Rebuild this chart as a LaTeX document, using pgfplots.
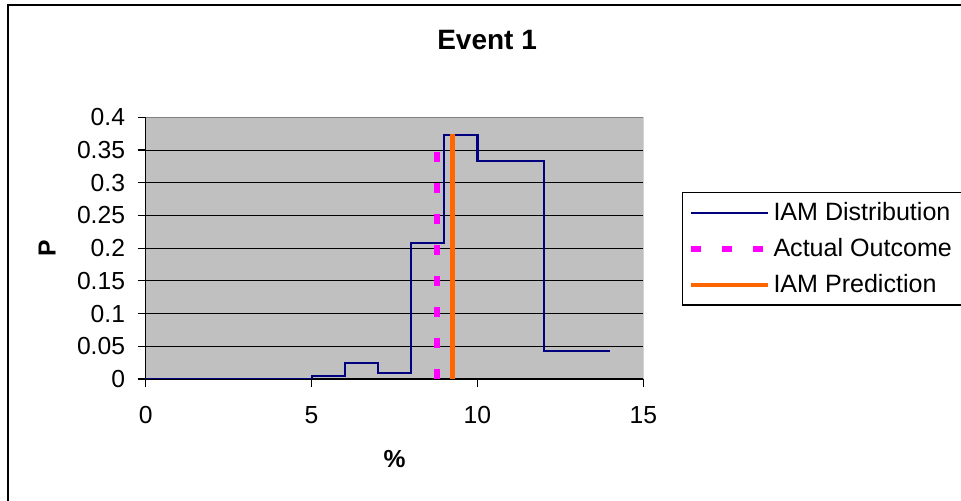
\documentclass[border=0pt]{standalone}
\usepackage{pgfplots}
\pgfplotsset{compat=1.18}
\usepackage{fontspec}
\setmainfont{Liberation Sans}

\definecolor{navyline}{RGB}{0,0,128}
\definecolor{plotgray}{RGB}{192,192,192}
\definecolor{orangeline}{RGB}{255,102,0}
\definecolor{pinkline}{RGB}{255,0,255}
\definecolor{bordergray}{RGB}{128,128,128}

\begin{document}
\begin{tikzpicture}
% page = 961 x 501 px at 0.75pt per px, origin at the lower left of the plot area
\useasboundingbox (-109.3pt,-91.5pt) rectangle (611.5pt,284.25pt);
\draw[black, line width=0.8pt] (-103.3pt,-91.5pt) -- (-103.3pt,280.5pt) -- (611.5pt,280.5pt);

\begin{axis}[
    at={(0,0)}, anchor=south west,
    scale only axis,
    width=373.2pt, height=196.3pt,
    xmin=0, xmax=15, ymin=0, ymax=0.4,
    xtick={0,5,10,15},
    ytick={0,0.05,...,0.4},
    scaled y ticks=false,
    yticklabel style={/pgf/number format/fixed, /pgf/number format/precision=2, xshift=-6pt},
    xticklabel style={yshift=-11pt},
    /pgf/number format/assume math mode=true,
    tick align=outside, tick pos=left,
    major tick length=6pt,
    every tick/.style={black, line width=0.8pt},
    ticklabel style={font=\fontsize{18.5}{21}\selectfont},
    axis background/.style={fill=plotgray},
    axis x line*=bottom, axis y line*=left,
    axis line style={black, line width=0.9pt},
    ymajorgrids,
    major grid style={black, line width=0.7pt},
    title={\textbf{Event 1}},
    every axis title/.style={at={(axis description cs:0.686,1.297)}, anchor=center, font=\fontsize{21}{24}\selectfont},
    xlabel={\textbf{\%}},
    xlabel style={at={(axis description cs:0.5,-0.306)}, anchor=center, font=\fontsize{18.5}{21}\selectfont},
    ylabel={\textbf{P}},
    ylabel style={at={(axis description cs:-0.198,0.5)}, anchor=center, rotate=0, font=\fontsize{18.5}{21}\selectfont},
    legend image code/.code={\draw[#1] (0pt,0pt) -- (57.75pt,0pt);},
    legend style={at={(axis description cs:1.0778,0.7146)}, anchor=north west,
        draw=black, line width=0.8pt, fill=white,
        font=\fontsize{18.8}{21}\selectfont,
        inner xsep=4pt, inner ysep=5.5pt, row sep=8pt,
        nodes={inner sep=2pt}},
    legend cell align=left,
]
\draw[bordergray, line width=0.9pt] (rel axis cs:0,1) -- (rel axis cs:1,1) -- (rel axis cs:1,0);

\addplot[navyline, line width=1.6pt, const plot] coordinates {
    (0,0) (5,0.004) (6,0.0245) (7,0.0097) (8,0.2074) (9,0.3735) (10,0.333) (12,0.0433) (14,0.0433)
};
\addlegendentry{IAM Distribution\hspace*{5pt}}

\addplot[pinkline, line width=4.5pt, dash pattern=on 7.5pt off 15.75pt] coordinates {
    (8.77,0) (8.77,0.377)
};
\addlegendentry{Actual Outcome\hspace*{5pt}}

\addplot[orangeline, line width=3.5pt] coordinates {
    (9.25,0) (9.25,0.375)
};
\addlegendentry{IAM Prediction}
\end{axis}
\end{tikzpicture}
\end{document}
